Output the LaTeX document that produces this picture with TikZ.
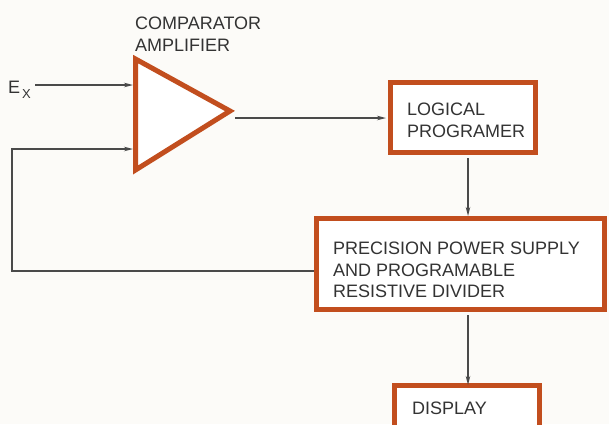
\documentclass[tikz,border=0pt]{standalone}
\usepackage{fontspec}
\setmainfont{Liberation Sans}
\usetikzlibrary{arrows.meta}
\definecolor{blockred}{HTML}{C24E1E}
\definecolor{wire}{HTML}{4A4A4A}
\definecolor{paper}{HTML}{FCFBF8}
\definecolor{ink}{HTML}{333333}
\tikzset{
  blockbox/.style={draw=blockred, line width=5pt, fill=white, rectangle, inner sep=0pt},
  label/.style={inner sep=0pt, anchor=north west, align=left, text=ink,
    font=\fontsize{18}{21.5}\selectfont},
  wireline/.style={draw=wire, line width=1.4pt},
  sig/.style={wireline, -{Stealth[length=9pt,width=4.5pt]}},
}
\begin{document}
\begin{tikzpicture}[x=1pt,y=-1pt]
\useasboundingbox (0,0) rectangle (609,424);
\clip (0,0) rectangle (609,424);
\fill[paper] (0,0) rectangle (609,424);

% amplifier triangle
\coordinate (ampTop) at (135.5,59);
\coordinate (ampBot) at (135.5,170);
\coordinate (ampTip) at (230,111);
\draw[blockred, line width=5pt, line join=miter, fill=white] (ampTop) -- (ampTip) -- (ampBot) -- cycle;
\coordinate (ampIn1) at (133,85);
\coordinate (ampIn2) at (133,149);
\coordinate (ampOut) at (235,118);

\node[label] (amplabel) at (135,17) {COMPARATOR\\AMPLIFIER};

% input Ex
\node[inner sep=0pt, anchor=base west, text=ink, font=\fontsize{18}{20}\selectfont] (ex) at (8,93)
  {E\hspace{2pt}\raisebox{-5pt}{\fontsize{13}{14}\selectfont X}};
\coordinate (exStart) at (35,85);
\draw[sig] (exStart) -- (ampIn1);

% boxes
\node[blockbox, minimum width=145pt, minimum height=70pt] (logic) at (463,117.5) {};
\node[label] (logictext) at (407,103) {LOGICAL\\PROGRAMER};

\node[blockbox, minimum width=288pt, minimum height=91pt] (pps) at (460.5,264) {};
\node[label] (ppstext) at (333,242) {PRECISION POWER SUPPLY\\AND PROGRAMABLE\\RESISTIVE DIVIDER};

\node[blockbox, minimum width=145pt, minimum height=80pt] (disp) at (467,425.5) {};
\node[label] (disptext) at (412,402) {DISPLAY};

% connectors
\coordinate (logicIn) at (386,118);
\draw[sig] (ampOut) -- (logicIn);

\coordinate (logicDown) at (468,158);
\coordinate (ppsTop) at (468,216);
\draw[sig] (logicDown) -- (ppsTop);

\coordinate (ppsDown) at (468,315);
\coordinate (dispTop) at (468,385);
\draw[sig] (ppsDown) -- (dispTop);

\coordinate (fbStart) at (314,271);
\coordinate (fbCorner1) at (12,271);
\coordinate (fbCorner2) at (12,149);
\draw[sig, line join=miter] (fbStart) -- (fbCorner1) -- (fbCorner2) -- (ampIn2);
\end{tikzpicture}
\end{document}
